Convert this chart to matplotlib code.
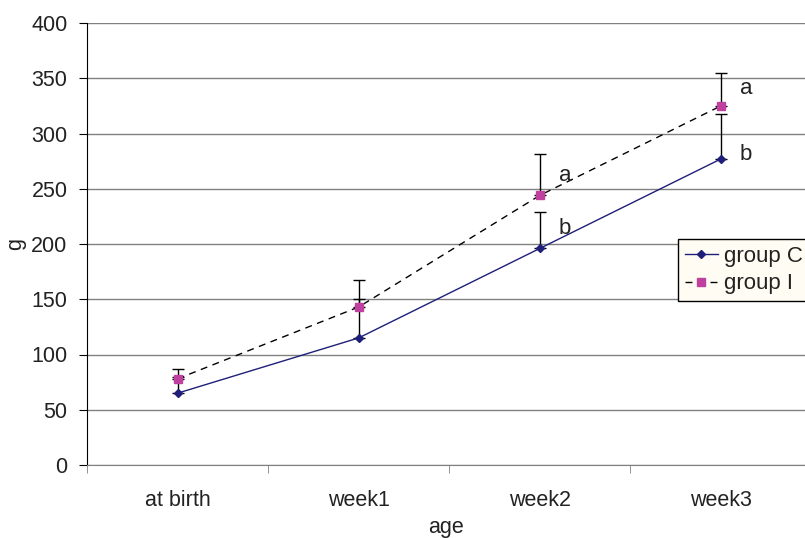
import matplotlib
matplotlib.use("Agg")
import matplotlib.pyplot as plt
from matplotlib.ticker import FixedLocator

plt.rcParams['font.family'] = ['Liberation Sans', 'DejaVu Sans']
plt.rcParams['font.size'] = 15.5

# data
categories = ['at birth', 'week1', 'week2', 'week3']
group_c = [65, 115, 196, 277]
group_c_err = [15, 35, 33, 41]
group_i = [78, 143, 244, 325]
group_i_err = [9, 24, 37, 30]

# significance letters: (category index, y value, letter)
sig_idx = [2, 2, 3, 3]
sig_y = [262, 214, 341, 281]
sig_txt = ['a', 'b', 'a', 'b']

fig = plt.figure(figsize=(8.05, 5.38), dpi=100)
ax = fig.add_axes([87 / 805, 1 - 465 / 538, 1 - 87 / 805, (465 - 23) / 538])

x = list(range(len(categories)))

for spine in ['top', 'right']:
    ax.spines[spine].set_visible(False)
ax.spines['left'].set_color('black')
ax.spines['bottom'].set_color('#808080')
ax.yaxis.grid(True, color='#808080', linewidth=1)
ax.set_axisbelow(True)

# error bars (plus only, excel style)
ax.errorbar(x, group_c, yerr=[[0] * 4, group_c_err], fmt='none',
            ecolor='black', elinewidth=1, capsize=4, capthick=1)
ax.errorbar(x, group_i, yerr=[[0] * 4, group_i_err], fmt='none',
            ecolor='black', elinewidth=1, capsize=4, capthick=1)

ax.plot(x, group_c, color='#1F1F7A', linewidth=1, marker='D', markersize=4,
        label='group C', zorder=3)
ax.plot(x, group_i, color='black', linewidth=1, linestyle=(0, (5, 4)),
        marker='s', markersize=5.5, markerfacecolor='#C040A0',
        markeredgecolor='#C040A0', label='group I', zorder=3)

for i, yv, t in zip(sig_idx, sig_y, sig_txt):
    ax.annotate(t, xy=(i, yv), xytext=(18, 0), textcoords='offset points',
                ha='center', va='center', fontsize=16, color='#222222')

ax.set_xlim(-0.5, 3.464)
ax.set_ylim(0, 400)
ax.set_yticks(range(0, 401, 50))
ax.set_xticks(x)
ax.set_xticklabels(categories)
ax.xaxis.set_minor_locator(FixedLocator([-0.5, 0.5, 1.5, 2.5, 3.5]))
ax.tick_params(axis='x', which='major', length=0, pad=18, labelcolor='#222222')
ax.tick_params(axis='x', which='minor', length=6, color='#808080')
ax.tick_params(axis='y', length=6, pad=8, labelcolor='#222222')

ax.set_xlabel('age', color='#222222', labelpad=4)
ax.set_ylabel('g', color='#222222', labelpad=4)

leg = ax.legend(loc='upper left', bbox_to_anchor=(678 / 805, 1 - 239 / 538),
                bbox_transform=fig.transFigure, fancybox=False,
                edgecolor='black', facecolor='#FFFDF3', framealpha=1,
                borderaxespad=0, borderpad=0.3, handlelength=1.5,
                handletextpad=0.25, labelspacing=0.3, fontsize=16)
leg.get_frame().set_linewidth(1)
for t in leg.get_texts():
    t.set_color('#222222')

fig.savefig('out.png', dpi=100)
